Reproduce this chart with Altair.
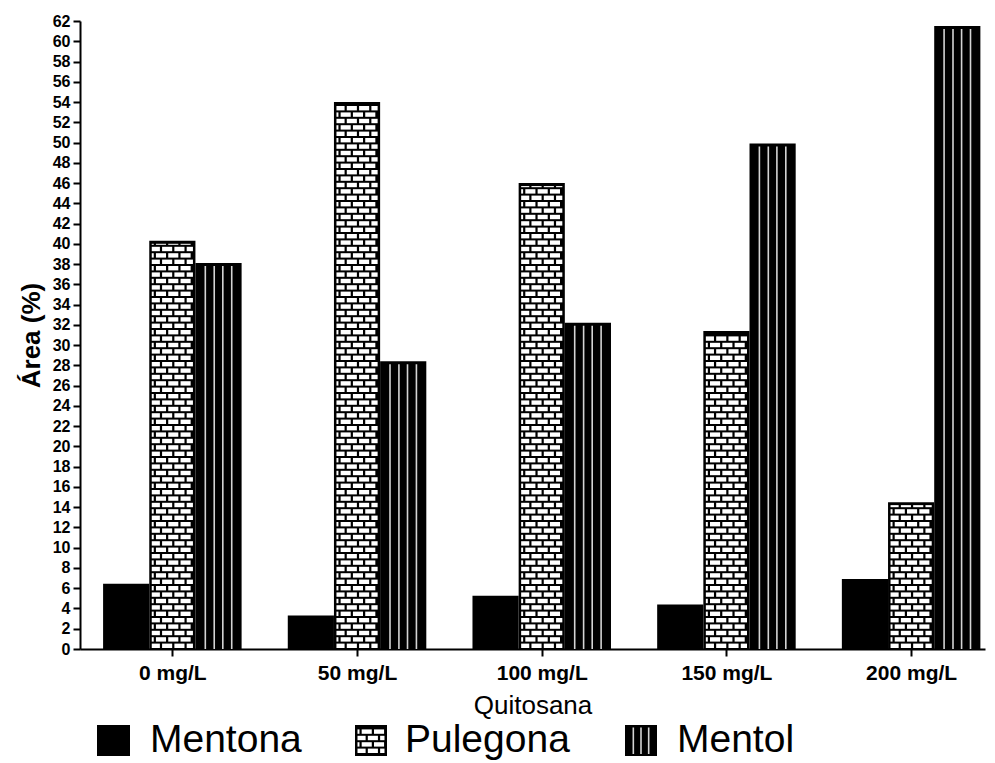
import json
import altair as alt
import pandas as pd

# ---------------- data ----------------
categories = ["0 mg/L", "50 mg/L", "100 mg/L", "150 mg/L", "200 mg/L"]
series = ["Mentona", "Pulegona", "Mentol"]
mentona = [6.45, 3.3, 5.25, 4.4, 6.9]
pulegona = [40.3, 54.0, 46.0, 31.4, 14.5]
mentol = [38.1, 28.4, 32.2, 49.9, 61.5]
y_ticks = list(range(0, 63, 2))
x_title = "Quitosana"
y_title = "Área (%)"

# ---------------- layout ----------------
FONT = "Liberation Sans"
W, H = 905, 628
XMIN, XMAX = -0.5, 4.4
YMAX = 62
PX = W / (XMAX - XMIN)
PY = H / YMAX
BAR = 0.25
OFF = {"Mentona": -0.375, "Pulegona": -0.125, "Mentol": 0.125}


def ux(p):
    return p / PX


def uy(p):
    return p / PY


def px2x(p):
    return XMIN + ux(p)


def px2y(p):
    return YMAX - uy(p)


# brick texture parameters (pixels converted to data units)
BW, MW = ux(12.3), ux(2.2)
RH, MH = uy(6.4), uy(2.0)
BORDER_X, BORDER_Y = ux(2.5), uy(3.0)
STRIPE_F = [0.214, 0.407, 0.593, 0.786]


def brick_rects(left, right, bottom, top):
    out = []
    r = 0
    while True:
        yb = bottom + r * RH + MH / 2
        if yb >= top:
            break
        yt = min(bottom + (r + 1) * RH - MH / 2, top)
        if yt - yb > MH * 0.3:
            start = left - (BW / 2 if r % 2 else 0) - BW * 0.25
            k = 0
            while start + k * BW < right:
                bl = max(start + k * BW + MW / 2, left)
                br = min(start + (k + 1) * BW - MW / 2, right)
                if br - bl > MW * 0.4:
                    out.append({"x0": bl, "x1": br, "y0": yb, "y1": yt})
                k += 1
        r += 1
    return out


bar_rows, brick_rows, stripe_rows = [], [], []
for s, vals in zip(series, [mentona, pulegona, mentol]):
    for i, v in enumerate(vals):
        x0 = i + OFF[s]
        x1 = x0 + BAR
        bar_rows.append({"series": s, "x0": x0, "x1": x1, "y0": 0.0, "y1": v})
        if s == "Pulegona":
            brick_rows += brick_rects(x0 + BORDER_X, x1 - BORDER_X, 0.0, v - BORDER_Y)
        if s == "Mentol":
            for f in STRIPE_F:
                stripe_rows.append({"x0": x0 + f * BAR, "y0": 0.0, "y1": v - BORDER_Y})

bars_df = pd.DataFrame(bar_rows)
bricks_df = pd.DataFrame(brick_rows)
stripes_df = pd.DataFrame(stripe_rows)

# ---------------- legend (positions in pixels relative to plot, converted) ----------------
LEG_SQ = [(17, 50), (275, 307), (545, 577)]
LEG_TEXT_X = [70, 325, 597]
LEG_TOP, LEG_BOT, LEG_MID = 704, 735, 719

leg_sq_rows, leg_brick_rows, leg_stripe_rows, leg_text_rows = [], [], [], []
for s, (a, b), tx in zip(series, LEG_SQ, LEG_TEXT_X):
    leg_sq_rows.append({"x0": px2x(a), "x1": px2x(b), "y0": px2y(LEG_BOT), "y1": px2y(LEG_TOP)})
    leg_text_rows.append({"x0": px2x(tx), "y1": px2y(LEG_MID), "label": s})
    if s == "Pulegona":
        leg_brick_rows += brick_rects(px2x(a) + BORDER_X, px2x(b) - BORDER_X,
                                      px2y(LEG_BOT) + uy(2), px2y(LEG_TOP) - uy(2.5))
    if s == "Mentol":
        for f in [0.26, 0.5, 0.74]:
            leg_stripe_rows.append({"x0": px2x(a + f * (b - a)),
                                    "y0": px2y(LEG_BOT - 2), "y1": px2y(LEG_TOP + 2.5)})

leg_sq_df = pd.DataFrame(leg_sq_rows)
leg_brick_df = pd.DataFrame(leg_brick_rows)
leg_stripe_df = pd.DataFrame(leg_stripe_rows)
leg_text_df = pd.DataFrame(leg_text_rows)

# ---------------- chart ----------------
xscale = alt.Scale(domain=[XMIN, XMAX], nice=False, zero=False)
yscale = alt.Scale(domain=[0, YMAX], nice=False, zero=False)

x_axis = alt.Axis(
    values=list(range(len(categories))),
    labelExpr=json.dumps(categories) + "[datum.value]",
    title=x_title, grid=False, tickSize=7, tickWidth=2, tickColor="black",
    domainColor="black", domainWidth=2, labelFont=FONT, labelFontSize=21,
    labelFontWeight="bold", labelColor="black", labelPadding=6, labelFlush=False,
    titleFont=FONT, titleFontSize=26, titleFontWeight="normal", titleColor="black",
    titlePadding=9,
)
y_axis = alt.Axis(
    values=y_ticks, title=y_title, grid=False, tickSize=7, tickWidth=2,
    tickColor="black", domainColor="black", domainWidth=2, labelFont=FONT,
    labelFontSize=16, labelFontWeight="bold", labelColor="black", labelPadding=3,
    labelFlush=False, titleFont=FONT, titleFontSize=26, titleFontWeight="bold",
    titleColor="black", titlePadding=8,
)

X = alt.X("x0:Q", scale=xscale, axis=x_axis, title=x_title)
Y = alt.Y("y1:Q", scale=yscale, axis=y_axis, title=y_title)

bars = alt.Chart(bars_df).mark_rect(fill="black").encode(x=X, x2="x1:Q", y=Y, y2="y0:Q")
bricks = alt.Chart(bricks_df).mark_rect(fill="white").encode(x=X, x2="x1:Q", y=Y, y2="y0:Q")
stripes = alt.Chart(stripes_df).mark_rule(stroke="#d4d4d4", strokeWidth=1.6).encode(
    x=X, y=Y, y2="y0:Q")
leg_sq = alt.Chart(leg_sq_df).mark_rect(fill="black").encode(x=X, x2="x1:Q", y=Y, y2="y0:Q")
leg_bricks = alt.Chart(leg_brick_df).mark_rect(fill="white").encode(
    x=X, x2="x1:Q", y=Y, y2="y0:Q")
leg_stripes = alt.Chart(leg_stripe_df).mark_rule(stroke="#d4d4d4", strokeWidth=1.6).encode(
    x=X, y=Y, y2="y0:Q")
leg_text = alt.Chart(leg_text_df).mark_text(
    align="left", baseline="middle", font=FONT, fontSize=39, color="black"
).encode(x=X, y=Y, text="label:N")

chart = alt.layer(
    bars, bricks, stripes, leg_sq, leg_bricks, leg_stripes, leg_text
).properties(
    width=W, height=H,
    padding={"left": 10, "top": 5, "right": 2, "bottom": 0},
    background="white",
).configure_view(stroke=None)

chart.save("out.html", embed_options={"renderer": "svg", "actions": False})
